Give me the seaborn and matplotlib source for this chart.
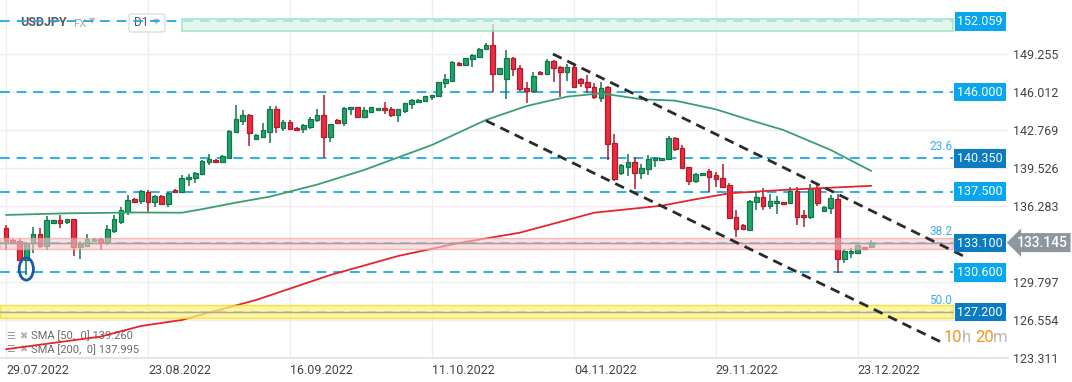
import numpy as np
import pandas as pd
import matplotlib
matplotlib.use("Agg")
import matplotlib.pyplot as plt
import matplotlib.transforms as mtransforms
from matplotlib.patches import Rectangle, Ellipse, FancyBboxPatch
import seaborn as sns

# =============================================================================
# 1. DATA (USDJPY, D1 candles, index 0 = 29.07.2022)
# =============================================================================
opens = [134.37, 133.37, 133.29, 131.66, 133.09, 133.88, 132.88, 134.85, 135.05, 134.93,
         135.14, 132.79, 132.88, 133.31, 133.48, 133.22, 134.16, 134.93, 135.74, 136.85,
         136.73, 137.50, 136.65, 137.13, 136.42, 137.65, 137.50, 138.56, 138.65, 138.99,
         140.07, 140.18, 140.01, 140.41, 142.63, 143.57, 144.06, 141.99, 142.20, 142.63,
         144.54, 142.97, 143.43, 142.92, 142.83, 143.06, 143.63, 144.03, 142.15, 143.63,
         143.34, 144.54, 144.71, 143.91, 144.34, 144.46, 144.63, 144.54, 144.06, 144.43,
         144.97, 145.14, 145.22, 145.57, 145.68, 146.77, 146.98, 148.47, 148.30, 148.82,
         148.99, 149.67, 150.04, 147.54, 147.11, 148.90, 148.05, 146.34, 146.14, 147.73,
         147.54, 148.70, 148.13, 147.76, 148.13, 147.11, 146.90, 146.48, 145.48, 146.42,
         141.64, 139.07, 139.64, 140.04, 139.12, 139.41, 140.18, 140.18, 140.27, 142.12,
         141.21, 139.58, 138.44, 138.90, 139.24, 138.93, 138.65, 138.05, 135.31, 134.65,
         134.23, 136.65, 137.02, 136.30, 136.51, 136.59, 136.51, 137.56, 135.50, 135.36,
         137.79, 135.88, 136.08, 136.85, 131.72, 132.23, 132.29, 132.74, 132.79]
highs = [134.65, 133.45, 133.43, 133.20, 134.51, 134.37, 135.42, 135.10, 135.50, 135.20,
         135.20, 133.28, 133.88, 133.50, 133.55, 134.65, 135.50, 136.22, 137.22, 136.95,
         137.65, 137.65, 137.20, 137.22, 137.45, 137.70, 138.93, 139.01, 139.15, 140.20,
         140.72, 140.25, 140.60, 142.75, 144.91, 144.48, 144.10, 142.40, 143.40, 144.83,
         144.83, 143.65, 143.60, 143.00, 143.25, 143.91, 144.54, 145.76, 143.30, 143.70,
         144.70, 144.75, 144.75, 144.71, 144.75, 144.68, 145.19, 144.75, 144.60, 145.10,
         145.40, 145.40, 145.72, 145.80, 146.90, 147.56, 148.65, 148.55, 148.95, 149.25,
         149.75, 150.19, 151.83, 148.10, 149.61, 149.00, 148.30, 146.85, 147.76, 147.80,
         148.85, 148.78, 148.20, 148.40, 148.40, 147.20, 147.50, 146.75, 146.85, 146.50,
         142.41, 139.90, 140.70, 140.45, 139.90, 140.60, 140.50, 140.40, 142.25, 142.20,
         141.50, 139.65, 139.10, 139.12, 139.40, 139.20, 139.87, 138.20, 135.94, 134.70,
         136.80, 137.59, 137.80, 137.30, 137.10, 136.65, 137.90, 137.90, 135.95, 138.16,
         138.05, 136.25, 137.20, 137.30, 132.60, 132.70, 133.10, 132.80, 133.35]
lows = [132.52, 133.05, 131.60, 130.38, 132.29, 132.70, 132.52, 134.80, 134.37, 134.71,
        132.03, 131.75, 132.80, 133.25, 132.52, 132.94, 133.94, 134.71, 135.50, 136.60,
        136.45, 135.79, 136.17, 136.35, 136.22, 137.40, 137.45, 137.99, 138.27, 138.90,
        139.78, 139.95, 139.95, 140.27, 142.55, 143.20, 141.41, 141.90, 142.10, 141.64,
        142.49, 142.70, 142.80, 142.70, 142.55, 142.85, 143.45, 140.41, 141.72, 143.30,
        143.15, 144.03, 143.85, 143.85, 144.25, 144.40, 144.10, 143.85, 143.48, 144.20,
        144.60, 145.05, 145.15, 145.30, 145.60, 146.35, 146.85, 148.25, 148.25, 148.14,
        148.95, 149.60, 146.05, 147.45, 145.40, 147.40, 146.10, 145.05, 145.90, 147.50,
        147.45, 146.90, 145.62, 146.98, 146.40, 146.48, 145.91, 145.45, 145.14, 140.21,
        138.44, 138.95, 138.84, 137.70, 138.60, 138.90, 139.60, 140.10, 140.20, 141.00,
        139.40, 138.07, 138.25, 138.85, 137.50, 137.90, 137.85, 135.23, 133.65, 134.20,
        134.15, 135.94, 135.95, 136.05, 135.60, 136.35, 136.45, 134.65, 134.45, 135.15,
        136.25, 135.80, 135.55, 130.58, 131.40, 131.85, 132.20, 132.50, 132.70]
closes = [133.31, 133.14, 131.64, 133.14, 133.88, 132.86, 135.08, 135.05, 134.85, 135.14,
          132.79, 133.00, 133.43, 133.45, 133.22, 134.28, 135.14, 135.94, 136.79, 136.65,
          137.56, 136.65, 137.13, 136.42, 137.41, 137.45, 138.65, 138.73, 139.07, 140.15,
          140.27, 140.01, 140.53, 142.71, 143.69, 144.06, 142.54, 142.34, 142.77, 144.57,
          143.00, 143.43, 142.83, 142.75, 143.17, 143.69, 144.03, 142.15, 143.26, 143.34,
          144.63, 144.71, 143.91, 144.48, 144.71, 144.63, 144.46, 144.06, 144.54, 145.05,
          145.34, 145.34, 145.68, 145.76, 146.85, 147.11, 148.56, 148.30, 148.90, 149.21,
          149.70, 150.02, 147.54, 148.05, 148.90, 147.96, 146.25, 146.14, 147.39, 147.54,
          148.70, 148.05, 147.76, 148.13, 146.48, 146.82, 146.42, 145.57, 146.34, 141.55,
          138.56, 139.78, 140.04, 139.12, 139.53, 140.32, 140.41, 140.35, 142.12, 141.12,
          139.50, 138.44, 139.01, 139.07, 138.78, 138.56, 137.93, 135.23, 134.28, 134.28,
          136.73, 137.02, 136.30, 136.68, 136.73, 136.42, 137.56, 135.36, 135.31, 137.79,
          136.51, 136.17, 136.94, 131.72, 132.46, 132.46, 132.91, 132.57, 133.14]

# moving averages (candle index -> value)
sma50_idx = [0, 9, 19, 26, 29, 34, 39, 46, 53, 63, 71, 77, 83, 88, 94, 99, 105, 110, 115, 122, 128]
sma50_val = [135.51, 135.65, 135.72, 135.70, 136.00, 136.56, 137.07, 138.10, 139.36, 141.49,
             143.63, 144.82, 145.62, 145.91, 145.40, 145.28, 144.54, 143.63, 142.77, 141.06, 139.27]
sma200_idx = [0, 14, 20, 26, 37, 48, 58, 67, 76, 87, 97, 102, 107, 115, 128]
sma200_val = [124.03, 125.11, 126.02, 126.53, 128.24, 130.38, 132.00, 133.11, 133.99,
              135.70, 136.30, 136.85, 137.36, 137.65, 138.00]

# channel lines (start / end)
upper_idx = [80.9, 141.9]
upper_val = [149.27, 131.92]
lower_idx = [71.0, 138.2]
lower_val = [143.57, 124.68]

# horizontal levels and fibo labels
levels = [152.059, 146.000, 140.350, 137.500, 133.100, 130.600, 127.200]
fib_labels = ['23.6', '38.2', '50.0']
fib_levels = [140.350, 133.100, 127.200]
last_price = 133.145
sma_legend = ['SMA [50,  0] 139.260', 'SMA [200,  0] 137.995']

date_idx = [0, 21, 42, 63, 84, 105, 126]
date_labels = ['29.07.2022', '23.08.2022', '16.09.2022', '11.10.2022',
               '04.11.2022', '29.11.2022', '23.12.2022']
y_ticks = [149.255, 146.012, 142.769, 139.526, 136.283, 133.040, 129.797, 126.554, 123.311]
y_tick_labels = ['149.255', '146.012', '142.769', '139.526', '136.283', '', '129.797', '126.554', '123.311']

# =============================================================================
# 2. STYLE
# =============================================================================
sns.set_theme(style='white')
plt.rcParams['font.family'] = ['Roboto', 'DejaVu Sans']
plt.rcParams['lines.scale_dashes'] = False

GREEN, GREEN_EDGE = '#22a36b', '#11774a'
RED, RED_EDGE = '#ec2a40', '#ad1b2c'
BLUE, BLUE_DARK = '#07a6ef', '#0b7cc2'
tag_colors = [BLUE, BLUE, BLUE_DARK, BLUE, BLUE_DARK, BLUE, BLUE_DARK]

W, H = 1072, 382
fig = plt.figure(figsize=(W / 100, H / 100), dpi=100)
ax = fig.add_axes([0, 24 / H, 1008 / W, 358 / H])


def px(x, y):
    return x / W, 1 - y / H


# =============================================================================
# 3. CANDLES
# =============================================================================
df = pd.DataFrame({'o': opens, 'h': highs, 'l': lows, 'c': closes})
df['idx'] = np.arange(len(df))
up = df['c'] >= df['o']
for mask, body, edge in [(up, GREEN, GREEN_EDGE), (~up, RED, RED_EDGE)]:
    d = df[mask]
    ax.vlines(d['idx'], d['l'], d['h'], color=edge, lw=1.1, zorder=3)
    ax.bar(d['idx'], np.maximum((d['c'] - d['o']).abs(), 0.08),
           bottom=np.minimum(d['o'], d['c']), width=0.68,
           color=body, edgecolor=edge, linewidth=0.9, zorder=3.2)

# moving averages
sns.lineplot(x=sma50_idx, y=sma50_val, ax=ax, color='#3a9f70', lw=1.3, zorder=3.5)
sns.lineplot(x=sma200_idx, y=sma200_val, ax=ax, color='#e3262e', lw=1.3, zorder=3.5)

# channel
for xs, ys in [(upper_idx, upper_val), (lower_idx, lower_val)]:
    ax.plot(xs, ys, color='#2b2b2b', lw=2.0, ls=(0, (7, 4.5)), zorder=5)

# =============================================================================
# 4. LEVELS, ZONES, TAGS
# =============================================================================
x0, x1 = -0.888, 148.22
lvl_end = 140.1
for lvl, col in zip(levels, tag_colors):
    ax.hlines(lvl, x0, lvl_end, color='#1aa9ee', lw=1.3, ls=(0, (7, 5)), zorder=2.5)
    ax.text(144.08, lvl, f'{lvl:.3f}', ha='center', va='center', fontsize=9,
            color='white', zorder=7,
            bbox=dict(boxstyle='square,pad=0.22', fc=col, ec='none'))

ax.add_patch(Rectangle((26.0, 151.26), lvl_end - 26.0, 1.0, fc='#daf5ea', ec='#8fdcbf',
                       lw=1.2, alpha=0.75, zorder=4))
ax.add_patch(Rectangle((x0, 132.63), lvl_end - x0, 0.94, fc='#fbc9c9', ec='#f09a9a',
                       lw=1.0, alpha=0.6, zorder=4))
ax.hlines(133.100, x0, lvl_end, color='#a0a0a0', lw=1.0, zorder=4.5)
ax.add_patch(Rectangle((x0, 126.72), lvl_end - x0, 1.06, fc='#fff27a', ec='#f2d81c',
                       lw=1.0, alpha=0.75, zorder=4))
ax.hlines(127.200, x0, lvl_end, color='#a8a8a8', lw=1.0, zorder=4.5)

for lab, lvl in zip(fib_labels, fib_levels):
    ax.text(140.0, lvl + 0.45, lab, ha='right', va='bottom', fontsize=8.5,
            color='#3aaeea', zorder=6)

ax.add_patch(Ellipse((3, 130.89), width=2.1, height=1.9, fill=False,
                     ec='#1a5aa6', lw=2, zorder=6))

# last price tag
trans = mtransforms.blended_transform_factory(ax.transAxes, ax.transData)
ax.text(1.009, last_price, f'{last_price:.3f}', transform=trans, ha='left', va='center',
        fontsize=10, color='white', fontweight='medium', zorder=8, clip_on=False,
        bbox=dict(boxstyle='larrow,pad=0.18', fc='#8d979d', ec='none'))

# =============================================================================
# 5. AXES
# =============================================================================
ax.set_xlim(x0, x1)
ax.set_ylim(123.28, 153.885)
ax.set_xticks(date_idx)
ax.set_xticklabels(date_labels, ha='left')
ax.yaxis.tick_right()
ax.set_yticks(y_ticks)
ax.set_yticklabels(y_tick_labels)
ax.tick_params(axis='x', length=0, pad=4, labelsize=9, labelcolor='#444444')
ax.tick_params(axis='y', length=0, pad=3.5, labelsize=9, labelcolor='#444444')
ax.grid(True, color='#eeeeee', lw=1)
ax.set_axisbelow(True)
for side in ['top', 'left', 'right']:
    ax.spines[side].set_visible(False)
ax.spines['bottom'].set_color('#e2e2e2')

# header
ax.text(*px(20, 23), 'USDJPY', transform=fig.transFigure, fontsize=9, fontweight='bold',
        color='#5a5a5a', va='center', zorder=1)
ax.text(*px(73, 24), 'FX', transform=fig.transFigure, fontsize=8, color='#a8a8a8',
        va='center', zorder=1)
ax.text(*px(89, 21), '▼', transform=fig.transFigure, fontsize=6, color='#bbbbbb',
        va='center', zorder=1)
box = FancyBboxPatch(px(129, 32), 36 / W, 18 / H, boxstyle='round,pad=0,rounding_size=0.004',
                     transform=fig.transFigure, fc='white', ec='#dddddd', lw=1,
                     zorder=1, clip_on=False)
ax.add_patch(box)
ax.text(*px(134, 23), 'D1', transform=fig.transFigure, fontsize=8.5, color='#555555',
        va='center', zorder=1.1)
ax.text(*px(153, 22), '▼', transform=fig.transFigure, fontsize=6, color='#bbbbbb',
        va='center', zorder=1.1)

# sma legend
for i, txt in enumerate(sma_legend):
    yy = 336 + 13.5 * i
    ax.text(*px(6, yy), '☰', transform=fig.transFigure, fontsize=7, color='#9a9a9a',
            va='center', zorder=1)
    ax.text(*px(19, yy), '✖', transform=fig.transFigure, fontsize=7, color='#b0b0b0',
            va='center', zorder=1)
    ax.text(*px(31, yy), txt, transform=fig.transFigure, fontsize=8, color='#6a6a6a',
            va='center', zorder=1)

# countdown
for xx, txt, col in [(944, '10', '#f7931e'), (962, 'h', '#b8b8b8'),
                     (975, '20', '#f7931e'), (993, 'm', '#b8b8b8')]:
    ax.text(*px(xx, 338), txt, transform=fig.transFigure, fontsize=12, color=col,
            va='center', zorder=7)

fig.savefig('out.png', dpi=100)
